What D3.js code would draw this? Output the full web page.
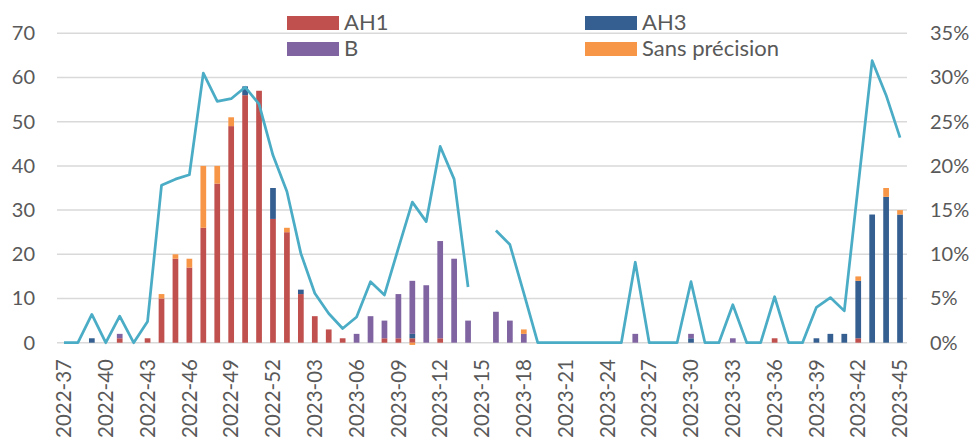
<!DOCTYPE html>
<html>
<head>
<meta charset="utf-8">
<script src="https://cdn.jsdelivr.net/npm/d3@7"></script>
<style>
  html, body { margin: 0; padding: 0; background: #fff; }
  svg { display: block; }
  text { font-family: Lato, "Noto Sans", sans-serif; fill: #595959; }
</style>
</head>
<body>
<svg id="chart" width="971" height="438"></svg>
<script>
const weeks = ["2022-37","2022-38","2022-39","2022-40","2022-41","2022-42","2022-43","2022-44","2022-45","2022-46","2022-47","2022-48","2022-49","2022-50","2022-51","2022-52",
  "2023-01","2023-02","2023-03","2023-04","2023-05","2023-06","2023-07","2023-08","2023-09","2023-10","2023-11","2023-12","2023-13","2023-14","2023-15","2023-16","2023-17","2023-18","2023-19","2023-20",
  "2023-21","2023-22","2023-23","2023-24","2023-25","2023-26","2023-27","2023-28","2023-29","2023-30","2023-31","2023-32","2023-33","2023-34","2023-35","2023-36","2023-37","2023-38","2023-39","2023-40",
  "2023-41","2023-42","2023-43","2023-44","2023-45"];

const tickLabels = ["2022-37","2022-40","2022-43","2022-46","2022-49","2022-52","2023-03","2023-06","2023-09","2023-12","2023-15","2023-18","2023-21","2023-24","2023-27","2023-30","2023-33","2023-36","2023-39","2023-42","2023-45"];

const seriesNames = ["AH1", "AH3", "B", "Sans précision"];

const AH1 = [0,0,0,0,1,0,1,10,19,17,26,36,49,56,57,28, 25,11,6,3,1,0,0,1,1,1,0,1,0,0,0,0,0,0,0,0, 0,0,0,0,0,0,0,0,0,0,0,0,0,0,0,1,0,0,0,0, 0,1,0,0,0];
const AH3 = [0,0,1,0,0,0,0,0,0,0,0,0,0,2,0,7, 0,1,0,0,0,0,0,0,0,1,0,0,0,0,0,0,0,0,0,0, 0,0,0,0,0,0,0,0,0,1,0,0,0,0,0,0,0,0,1,2, 2,13,29,33,29];
const B   = [0,0,0,0,1,0,0,0,0,0,0,0,0,0,0,0, 0,0,0,0,0,2,6,4,10,12,13,22,19,5,0,7,5,2,0,0, 0,0,0,0,0,2,0,0,0,1,0,0,1,0,0,0,0,0,0,0, 0,0,0,0,0];
const SP  = [0,0,0,0,0,0,0,1,1,2,14,4,2,0,0,0, 1,0,0,0,0,0,0,0,0,-0.5,0,0,0,0,0,0,0,1,0,0, 0,0,0,0,0,0,0,0,0,0,0,0,0,0,0,0,0,0,0,0, 0,1,0,2,1];

const positivity = [0,0,3.2,0,3.0,0,2.4,17.8,18.5,19.0,30.5,27.3,27.6,28.9,27.0,21.2,
  17.1,10.1,5.6,3.3,1.6,2.9,6.9,5.4,10.7,15.9,13.7,22.2,18.5,6.3,null,12.7,11.1,5.6,0,0,
  0,0,0,0,0,9.1,0,0,0,6.9,0,0,4.3,0,0,5.2,0,0,4.0,5.1,
  3.6,17.8,31.9,28.0,23.2];

const leftTicks = [0,10,20,30,40,50,60,70];
const rightTicks = [0,5,10,15,20,25,30,35];

const colors = {"AH1":"#C0504D","AH3":"#355F91","B":"#8064A2","Sans précision":"#F79646"};
const lineColor = "#4BACC6";

const svg = d3.select("#chart");
const L = 57, R = 907, T = 33.3, Bm = 342.7;

const x = d3.scaleBand().domain(weeks).range([L, R]).paddingInner(0.59).paddingOuter(0.295);
const y = d3.scaleLinear().domain([0, 70]).range([Bm, T]);
const y2 = d3.scaleLinear().domain([0, 35]).range([Bm, T]);

// gridlines
svg.append("g").selectAll("line").data(leftTicks).join("line")
  .attr("x1", L).attr("x2", R)
  .attr("y1", d => y(d)).attr("y2", d => y(d))
  .attr("stroke", "#D9D9D9").attr("stroke-width", 1.5);

// left axis
const yAxis = d3.axisLeft(y).tickValues(leftTicks).tickSize(0).tickPadding(0);
const gy = svg.append("g").attr("transform", "translate(35,0)").call(yAxis);
gy.select(".domain").remove();
gy.selectAll("text").style("font-size", "20px").attr("fill", "#595959").style("font-family", "Lato, sans-serif");

// right axis
const yAxis2 = d3.axisRight(y2).tickValues(rightTicks).tickSize(0).tickPadding(0).tickFormat(d => d + "%");
const gy2 = svg.append("g").attr("transform", "translate(930,0)").call(yAxis2);
gy2.select(".domain").remove();
gy2.selectAll("text").style("font-size", "20px").attr("fill", "#595959").style("font-family", "Lato, sans-serif");

// x axis labels
const xAxis = d3.axisBottom(x).tickValues(tickLabels).tickSize(0).tickPadding(0);
const gx = svg.append("g").attr("transform", "translate(0,359)").call(xAxis);
gx.select(".domain").remove();
gx.selectAll("text")
  .style("font-size", "20.5px").attr("fill", "#595959").style("font-family", "Lato, sans-serif")
  .attr("text-anchor", "end")
  .attr("transform", "rotate(-90)")
  .attr("x", 0).attr("y", 0).attr("dy", "0.35em");

// stacked bars
const table = weeks.map((w, i) => ({week: w, "AH1": AH1[i], "AH3": AH3[i], "B": B[i], "Sans précision": SP[i]}));
const stack = d3.stack().keys(seriesNames).offset(d3.stackOffsetDiverging);
const layers = stack(table);

svg.append("g").selectAll("g").data(layers).join("g")
  .attr("fill", d => colors[d.key])
  .selectAll("rect").data(d => d.filter(s => s[1] !== s[0])).join("rect")
  .attr("x", d => x(d.data.week))
  .attr("width", x.bandwidth())
  .attr("y", d => y(Math.max(d[0], d[1])))
  .attr("height", d => Math.abs(y(d[0]) - y(d[1])));

// positivity line
const line = d3.line()
  .defined(d => d.v !== null)
  .x(d => x(d.week) + x.bandwidth() / 2)
  .y(d => y2(d.v));
svg.append("path")
  .datum(weeks.map((w, i) => ({week: w, v: positivity[i]})))
  .attr("d", line)
  .attr("fill", "none")
  .attr("stroke", lineColor)
  .attr("stroke-width", 2.75)
  .attr("stroke-linejoin", "round");

// legend
const legendPos = [
  {name: "AH1", x: 287, y: 16},
  {name: "AH3", x: 585, y: 16},
  {name: "B", x: 287, y: 42},
  {name: "Sans précision", x: 585, y: 42}
];
const lg = svg.append("g").selectAll("g").data(legendPos).join("g")
  .attr("transform", d => `translate(${d.x},${d.y})`);
lg.append("rect").attr("width", 52).attr("height", 14).attr("fill", d => colors[d.name]);
lg.append("text").attr("x", 57).attr("y", 14).text(d => d.name)
  .style("font-size", "22px").attr("fill", "#595959");
</script>
</body>
</html>
